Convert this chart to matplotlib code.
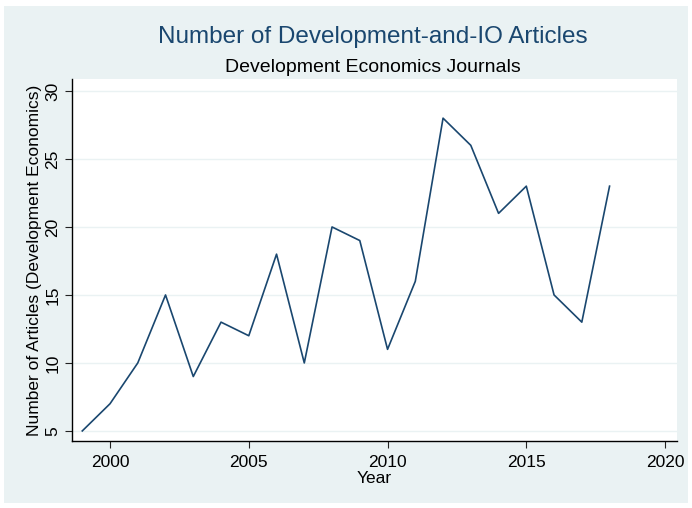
import matplotlib.pyplot as plt
from matplotlib.patches import Rectangle

years = [1999, 2000, 2001, 2002, 2003, 2004, 2005, 2006, 2007, 2008,
         2009, 2010, 2011, 2012, 2013, 2014, 2015, 2016, 2017, 2018]
articles = [5, 7, 10, 15, 9, 13, 12, 18, 10, 20,
            19, 11, 16, 28, 26, 21, 23, 15, 13, 23]
xticks = [2000, 2005, 2010, 2015, 2020]
yticks = [5, 10, 15, 20, 25, 30]

plt.rcParams['font.family'] = ['Liberation Sans', 'DejaVu Sans']
navy = '#1a476f'
bg = '#eaf2f3'

fig = plt.figure(figsize=(6.92, 5.08), dpi=100, facecolor='white')
# stata-like outer panel
fig.patches.append(Rectangle((4/692, 5/508), 684/692, 497/508,
                             transform=fig.transFigure, facecolor=bg,
                             edgecolor='none', zorder=-10))

ax = fig.add_axes([72/692, 67/508, 605/692, 362/508])
ax.set_facecolor('white')
ax.plot(years, articles, color=navy, linewidth=1.2)

ax.set_xlim(1998.63, 2020.43)
ax.set_ylim(4.26, 30.88)
ax.set_xticks(xticks)
ax.set_yticks(yticks)
ax.tick_params(axis='both', direction='out', length=5, width=0.8,
               color='#222222', labelsize=12.5)
ax.tick_params(axis='x', pad=5)
for lab in ax.get_yticklabels():
    lab.set_rotation(90)
    lab.set_va('center')
ax.grid(axis='y', color=bg, linewidth=1)
ax.set_axisbelow(True)
for s in ['top', 'right']:
    ax.spines[s].set_visible(False)
for s in ['left', 'bottom']:
    ax.spines[s].set_linewidth(1.0)
    ax.spines[s].set_color('black')

ax.set_xlabel('Year', fontsize=12.5, labelpad=1)
ax.set_ylabel('Number of Articles (Development Economics)', fontsize=12.5, labelpad=2)

fig.text(373/692, 1 - 37/508, 'Number of Development-and-IO Articles',
         ha='center', va='center', fontsize=17.5, color=navy)
fig.text(373/692, 1 - 67/508, 'Development Economics Journals',
         ha='center', va='center', fontsize=14, color='black')

fig.savefig('out.png', dpi=100, facecolor=fig.get_facecolor())
